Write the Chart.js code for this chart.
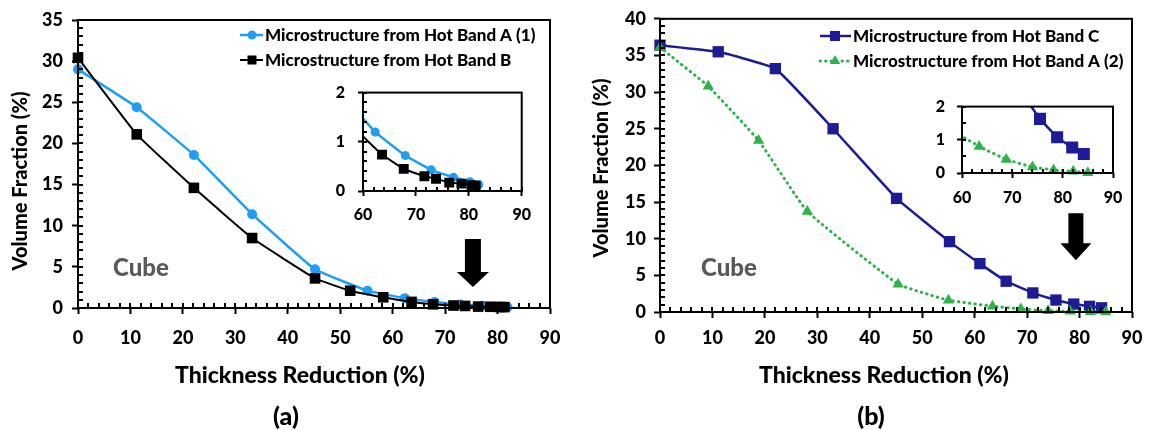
<!DOCTYPE html>
<html>
<head>
<meta charset="utf-8">
<script src="https://cdn.jsdelivr.net/npm/chart.js@4.4.1/dist/chart.umd.min.js"></script>
<style>
  html, body { margin: 0; padding: 0; background: #fff; }
  #wrap { position: relative; width: 1155px; height: 430px; overflow: hidden; }
  canvas { position: absolute; }
</style>
</head>
<body>
<div id="wrap">
  <canvas id="mainA" width="575" height="430" style="left:0px;top:0px"></canvas>
  <canvas id="insetA" width="220" height="160" style="left:320px;top:70px"></canvas>
  <canvas id="mainB" width="575" height="430" style="left:580px;top:0px"></canvas>
  <canvas id="insetB" width="225" height="130" style="left:915px;top:85px"></canvas>
</div>
<script>
// Thickness reduction (%) vs cube volume fraction (%)
const bandA1Reduction = [0, 11.2, 22.1, 33.2, 45.2, 55.2, 62.3, 68.0, 72.9, 77.1, 80.2, 81.9];
const bandA1Volume    = [29.0, 24.4, 18.6, 11.4, 4.7, 2.1, 1.2, 0.72, 0.43, 0.28, 0.19, 0.13];

const bandBReduction = [0, 11.2, 22.1, 33.2, 45.2, 51.9, 58.2, 63.6, 67.7, 71.6, 73.8, 76.3, 78.6, 80.5, 81.3];
const bandBVolume    = [30.4, 21.1, 14.6, 8.5, 3.6, 2.1, 1.3, 0.74, 0.45, 0.30, 0.25, 0.17, 0.15, 0.12, 0.11];

const bandCReduction = [0, 11.1, 22.0, 33.0, 45.1, 55.2, 61.0, 66.0, 71.1, 75.5, 78.9, 81.9, 84.2];
const bandCVolume    = [36.4, 35.5, 33.2, 25.0, 15.5, 9.6, 6.6, 4.2, 2.6, 1.63, 1.08, 0.77, 0.57];

const bandA2Reduction = [0, 9.2, 18.8, 28.1, 45.4, 55.0, 63.4, 68.8, 74.0, 78.2, 82.1, 85.0];
const bandA2Volume    = [36.1, 30.8, 23.4, 13.7, 3.8, 1.6, 0.80, 0.41, 0.18, 0.09, 0.05, 0.01];

const labelA1 = "Microstructure from Hot Band A (1)";
const labelB  = "Microstructure from Hot Band B";
const labelC  = "Microstructure from Hot Band C";
const labelA2 = "Microstructure from Hot Band A (2)";

const FONT = "Lato, 'Open Sans', sans-serif";
const WEIGHT = "900";
const BLUE = "#1e9ff2", BLACK = "#000000", NAVY = "#1c1c96", GREEN = "#2db34a";

// per-canvas extras (minor ticks, frame, legend, labels, arrow)
const decorSettings = new Map();

function points(xs, ys) {
    return xs.map((x, i) => ({ x: x, y: ys[i] }));
}

function series(label, xs, ys, style) {
    return Object.assign({
        label: label,
        data: points(xs, ys),
        tension: 0.1,
        fill: false,
        pointBorderWidth: 0
    }, style);
}

function drawMarker(ctx, style, x, y, r, color) {
    ctx.fillStyle = color;
    ctx.beginPath();
    if (style === "circle") {
        ctx.arc(x, y, r, 0, Math.PI * 2);
    } else if (style === "rect") {
        ctx.rect(x - r, y - r, 2 * r, 2 * r);
    } else {
        ctx.moveTo(x, y - r);
        ctx.lineTo(x + r * 0.866, y + r / 2);
        ctx.lineTo(x - r * 0.866, y + r / 2);
        ctx.closePath();
    }
    ctx.fill();
}

// minor ticks point into the plot, major ticks cross the axis
function drawTicks(chart, o) {
    const ctx = chart.ctx, a = chart.chartArea, xs = chart.scales.x, ys = chart.scales.y;
    const x0 = Number(xs.options.min), x1 = Number(xs.options.max);
    const y0 = Number(ys.options.min), y1 = Number(ys.options.max);
    ctx.save();
    ctx.setLineDash([]);
    ctx.strokeStyle = "#000";
    ctx.lineWidth = o.tickWidth;
    ctx.lineCap = "butt";
    const nx = Math.round((x1 - x0) / o.minorX);
    for (let i = 0; i <= nx; i++) {
        const px = Math.round(xs.getPixelForValue(x0 + i * o.minorX));
        ctx.beginPath();
        ctx.moveTo(px, a.bottom);
        ctx.lineTo(px, a.bottom - o.tickIn);
        ctx.stroke();
    }
    const ny = Math.round((y1 - y0) / o.minorY);
    for (let i = 0; i <= ny; i++) {
        const py = Math.round(ys.getPixelForValue(y0 + i * o.minorY));
        ctx.beginPath();
        ctx.moveTo(a.left, py);
        ctx.lineTo(a.left + o.tickIn, py);
        ctx.stroke();
    }
    ctx.lineWidth = o.frameWidth;
    ctx.strokeRect(a.left, a.top, a.right - a.left, a.bottom - a.top);
    ctx.restore();
}

const decor = {
    id: "decor",
    afterDraw(chart) {
        const o = decorSettings.get(chart.canvas.id);
        const ctx = chart.ctx;
        drawTicks(chart, o);
        ctx.save();
        (o.texts || []).forEach(t => {
            ctx.save();
            ctx.translate(t.x, t.y);
            if (t.rotate) ctx.rotate(-Math.PI / 2);
            ctx.font = WEIGHT + " " + t.size + "px " + FONT;
            ctx.fillStyle = t.color || "#000";
            ctx.textAlign = "center";
            ctx.textBaseline = "middle";
            ctx.fillText(t.text, 0, 0);
            ctx.restore();
        });
        if (o.legend) {
            const L = o.legend;
            chart.data.datasets.forEach((ds, i) => {
                const y = L.y + i * L.dy;
                ctx.save();
                ctx.strokeStyle = ds.borderColor;
                ctx.lineWidth = ds.borderWidth;
                ctx.setLineDash(ds.borderDash || []);
                ctx.lineCap = ds.borderCapStyle || "butt";
                ctx.beginPath();
                ctx.moveTo(L.x0, y);
                ctx.lineTo(L.x1, y);
                ctx.stroke();
                ctx.restore();
                drawMarker(ctx, ds.pointStyle, L.mx, y, L.radius[i], ds.pointBackgroundColor);
                ctx.font = WEIGHT + " " + L.size + "px " + FONT;
                ctx.fillStyle = "#000";
                ctx.textAlign = "left";
                ctx.textBaseline = "middle";
                ctx.fillText(ds.label, L.tx, y + 1);
            });
        }
        if (o.arrow) {
            const ar = o.arrow, xs = chart.scales.x, ys = chart.scales.y;
            const cx = xs.getPixelForValue(ar.x);
            const top = ys.getPixelForValue(ar.top);
            const neck = ys.getPixelForValue(ar.neck);
            const tip = ys.getPixelForValue(ar.tip);
            ctx.fillStyle = "#000";
            ctx.beginPath();
            ctx.moveTo(cx - ar.shaft, top);
            ctx.lineTo(cx + ar.shaft, top);
            ctx.lineTo(cx + ar.shaft, neck);
            ctx.lineTo(cx + ar.head, neck);
            ctx.lineTo(cx, tip);
            ctx.lineTo(cx - ar.head, neck);
            ctx.lineTo(cx - ar.shaft, neck);
            ctx.closePath();
            ctx.fill();
        }
        ctx.restore();
    }
};

// major tick marks come from the library's own grid (outward, no grid lines)
function axisGrid(c) {
    return { display: true, drawOnChartArea: false, drawTicks: true, tickLength: c.tickOut,
             tickWidth: 2, tickColor: "#000" };
}

function scales(c) {
    const font = { family: FONT, size: c.tickSize, weight: WEIGHT };
    return {
        x: {
            type: "linear", min: c.xMin, max: c.xMax,
            afterFit: s => { s.height = c.xHeight; },
            border: { display: false },
            grid: axisGrid(c),
            ticks: { stepSize: c.xStep, autoSkip: false, maxRotation: 0, padding: c.xPad - c.tickOut, color: "#000", font: font }
        },
        y: {
            type: "linear", min: c.yMin, max: c.yMax,
            afterFit: s => { s.width = c.yWidth; },
            border: { display: false },
            grid: axisGrid(c),
            ticks: { stepSize: c.yStep, autoSkip: false, padding: c.yPad - c.tickOut, color: "#000", font: font }
        }
    };
}

function makeChart(id, datasets, c, extras) {
    decorSettings.set(id, extras);
    return new Chart(document.getElementById(id), {
        type: "line",
        data: { datasets: datasets },
        options: {
            responsive: false,
            animation: false,
            events: [],
            layout: { padding: { left: 0, top: c.padTop, right: c.padRight, bottom: 0 } },
            scales: scales(c),
            plugins: {
                legend: { display: false },
                tooltip: { enabled: false }
            }
        },
        plugins: [decor]
    });
}

const insetClip = { left: 0, top: 0, right: false, bottom: false };

// ---------- panel (a) ----------
const styleA1 = { borderColor: BLUE, pointBackgroundColor: BLUE, pointStyle: "circle", borderWidth: 2.5, order: 2 };
const styleB  = { borderColor: BLACK, pointBackgroundColor: BLACK, pointStyle: "rect", borderWidth: 2, order: 1 };

makeChart("mainA", [
    series(labelA1, bandA1Reduction, bandA1Volume, Object.assign({ pointRadius: 5, clip: false }, styleA1)),
    series(labelB, bandBReduction, bandBVolume, Object.assign({ pointRadius: 7.5, clip: false }, styleB))
], {
    xMin: 0, xMax: 90, xStep: 10, yMin: 0, yMax: 35, yStep: 5,
    xHeight: 122, yWidth: 78, padTop: 20, padRight: 25, xPad: 19, yPad: 15, tickSize: 18, tickOut: 6
}, {
    minorX: 2, minorY: 1, tickIn: 5, tickWidth: 2, frameWidth: 2,
    texts: [
        { text: "Volume Fraction (%)", x: 21, y: 181, size: 20, rotate: true },
        { text: "Thickness Reduction (%)", x: 300, y: 376, size: 23 },
        { text: "(a)", x: 286, y: 417, size: 25 },
        { text: "Cube", x: 141, y: 268, size: 24, color: "#595959" }
    ],
    legend: { x0: 240, x1: 263, mx: 252, tx: 265, y: 35, dy: 25, size: 17, radius: [4.5, 4.5] },
    arrow: { x: 75.3, top: 8.4, neck: 4.37, tip: 2.55, shaft: 8, head: 16 }
});

makeChart("insetA", [
    series(labelA1, bandA1Reduction, bandA1Volume, Object.assign({ pointRadius: 4.5, clip: insetClip }, styleA1)),
    series(labelB, bandBReduction, bandBVolume, Object.assign({ pointRadius: 7, clip: insetClip }, styleB))
], {
    xMin: 60, xMax: 90, xStep: 10, yMin: 0, yMax: 2, yStep: 1,
    xHeight: 39, yWidth: 43, padTop: 16, padRight: 18, xPad: 14, yPad: 18, tickSize: 16, tickOut: 5
}, {
    minorX: 2, minorY: 0.2, tickIn: 4, tickWidth: 2, frameWidth: 2
});

// ---------- panel (b) ----------
const styleC  = { borderColor: NAVY, pointBackgroundColor: NAVY, pointStyle: "rect", borderWidth: 2.5, order: 2 };
const styleA2 = { borderColor: GREEN, pointBackgroundColor: GREEN, pointStyle: "triangle", borderWidth: 3,
                  borderDash: [0.5, 5], borderCapStyle: "round", order: 1 };

makeChart("mainB", [
    series(labelC, bandCReduction, bandCVolume, Object.assign({ pointRadius: 8, clip: false }, styleC)),
    series(labelA2, bandA2Reduction, bandA2Volume, Object.assign({ pointRadius: 6.5, clip: false }, styleA2))
], {
    xMin: 0, xMax: 90, xStep: 10, yMin: 0, yMax: 40, yStep: 5,
    xHeight: 118, yWidth: 80, padTop: 18, padRight: 23, xPad: 15, yPad: 14, tickSize: 18, tickOut: 6
}, {
    minorX: 2, minorY: 1, tickIn: 5, tickWidth: 2, frameWidth: 2,
    texts: [
        { text: "Volume Fraction (%)", x: 22, y: 168, size: 20, rotate: true },
        { text: "Thickness Reduction (%)", x: 304, y: 376, size: 23 },
        { text: "(b)", x: 291, y: 417, size: 25 },
        { text: "Cube", x: 149, y: 268, size: 24, color: "#595959" }
    ],
    legend: { x0: 240, x1: 271, mx: 255, tx: 273, y: 36, dy: 25, size: 17, radius: [5, 6] },
    arrow: { x: 79.3, top: 13.47, neck: 9.39, tip: 7.07, shaft: 7.5, head: 15.5 }
});

makeChart("insetB", [
    series(labelC, bandCReduction, bandCVolume, Object.assign({ pointRadius: 8.5, clip: insetClip }, styleC)),
    series(labelA2, bandA2Reduction, bandA2Volume, Object.assign({ pointRadius: 6.5, clip: insetClip }, styleA2))
], {
    xMin: 60, xMax: 90, xStep: 10, yMin: 0, yMax: 2, yStep: 1,
    xHeight: 42, yWidth: 47, padTop: 14, padRight: 27, xPad: 15, yPad: 17, tickSize: 16, tickOut: 5
}, {
    minorX: 2, minorY: 0.5, tickIn: 4, tickWidth: 2, frameWidth: 2
});
</script>
</body>
</html>
